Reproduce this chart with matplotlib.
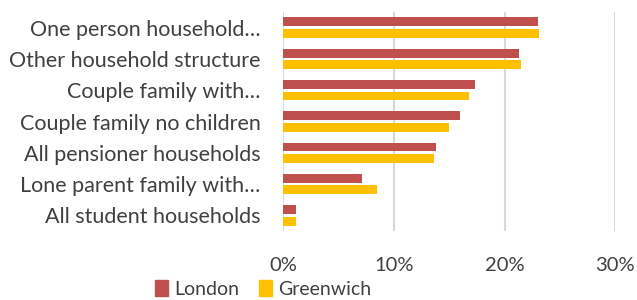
import matplotlib
matplotlib.use("Agg")
import matplotlib.pyplot as plt
import numpy as np
from matplotlib.patches import Patch

categories = ["One person household…", "Other household structure", "Couple family with…",
              "Couple family no children", "All pensioner households", "Lone parent family with…",
              "All student households"]
london = [23.0, 21.3, 17.3, 16.0, 13.8, 7.1, 1.15]
greenwich = [23.1, 21.5, 16.8, 15.0, 13.6, 8.5, 1.2]
xticks = [0, 10, 20, 30]
xticklabels = ["0%", "10%", "20%", "30%"]

plt.rcParams['font.family'] = ['Lato', 'DejaVu Sans']
txt = '#404040'
c_lon = '#C0504D'
c_gre = '#FFC000'
fs = 15.5

fig = plt.figure(figsize=(6.37, 3.0), dpi=100)
ax = fig.add_axes([0.444, 0.23, 0.522, 0.73])

y = np.arange(len(categories))
h = 0.28
ax.barh(y - 0.185, london, height=h, color=c_lon, zorder=3)
ax.barh(y + 0.185, greenwich, height=h, color=c_gre, zorder=3)
ax.set_ylim(len(categories) - 0.5, -0.5)
ax.set_xlim(0, 30)
ax.set_xticks(xticks)
ax.set_xticklabels(xticklabels, fontsize=14.5, color=txt)
ax.set_yticks(y)
ax.set_yticklabels(categories, fontsize=fs, color=txt)
ax.tick_params(axis='both', length=0)
ax.tick_params(axis='x', pad=19)
ax.tick_params(axis='y', pad=16)
for s in ax.spines.values():
    s.set_visible(False)
ax.grid(axis='x', color='#D9D9D9', linewidth=1.5, zorder=0)
ax.set_axisbelow(True)

handles = [Patch(color=c_lon, label='London'), Patch(color=c_gre, label='Greenwich')]
fig.legend(handles=handles, loc='center', bbox_to_anchor=(0.413, 0.037), ncol=2, frameon=False,
           prop={'size': 14}, labelcolor=txt, handlelength=0.7, handleheight=0.9,
           handletextpad=0.3, columnspacing=1.0, borderpad=0)

fig.savefig("out.png", dpi=100)
